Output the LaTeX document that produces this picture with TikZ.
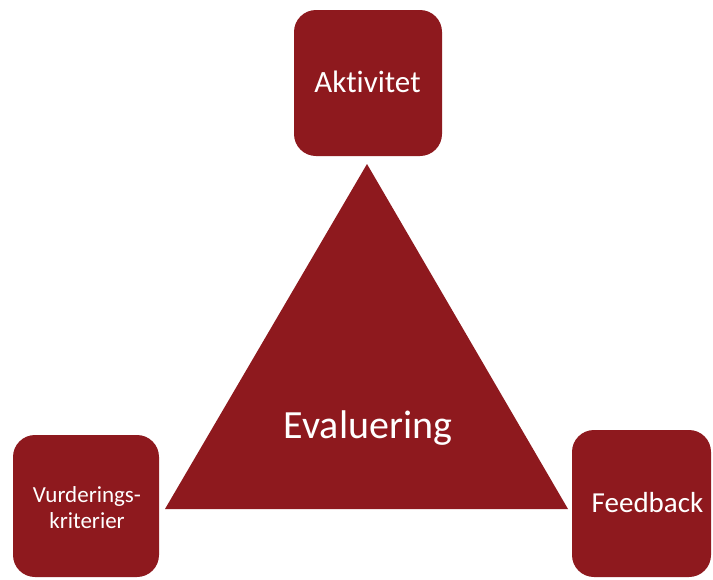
\documentclass[tikz,border=0pt]{standalone}
\usepackage{fontspec}
\setmainfont[RawFeature={-liga;-clig;-dlig}]{Carlito}
\definecolor{boxred}{RGB}{142,25,30}
\begin{document}
\begin{tikzpicture}[x=1pt,y=-1pt,
  redbox/.style={fill=boxred, draw=none, rounded corners=22pt, inner sep=0pt},
  lbl/.style={text=white, anchor=base, inner sep=0pt}]
\useasboundingbox (0,0) rectangle (713,579);
\fill[white] (0,0) rectangle (713,579);
% boxes
\node[redbox, minimum width=148pt, minimum height=146pt] (akt) at (368,83) {};
\node[redbox, minimum width=146pt, minimum height=142pt] (vur) at (86,506) {};
\node[redbox, minimum width=139pt, minimum height=147pt] (fee) at (641.5,503.5) {};
% triangle
\coordinate (apex) at (367,164);
\coordinate (bl) at (165,509);
\coordinate (br) at (568,509);
\fill[boxred] (apex) -- (br) -- (bl) -- cycle;
% labels
\node[lbl, font=\fontsize{31}{37}\selectfont] (aktt) at (367.5,92) {Aktivitet};
\node[lbl, font=\fontsize{29}{35}\selectfont] (feet) at (647.5,512) {Feedback};
\node[lbl, font=\fontsize{40}{48}\selectfont] (evat) at (368,438) {Evaluering};
\node[lbl, font=\fontsize{23}{27}\selectfont] (vur1) at (87,502) {Vurderings-};
\node[lbl, font=\fontsize{23}{27}\selectfont] (vur2) at (87,528) {kriterier};
\end{tikzpicture}
\end{document}
